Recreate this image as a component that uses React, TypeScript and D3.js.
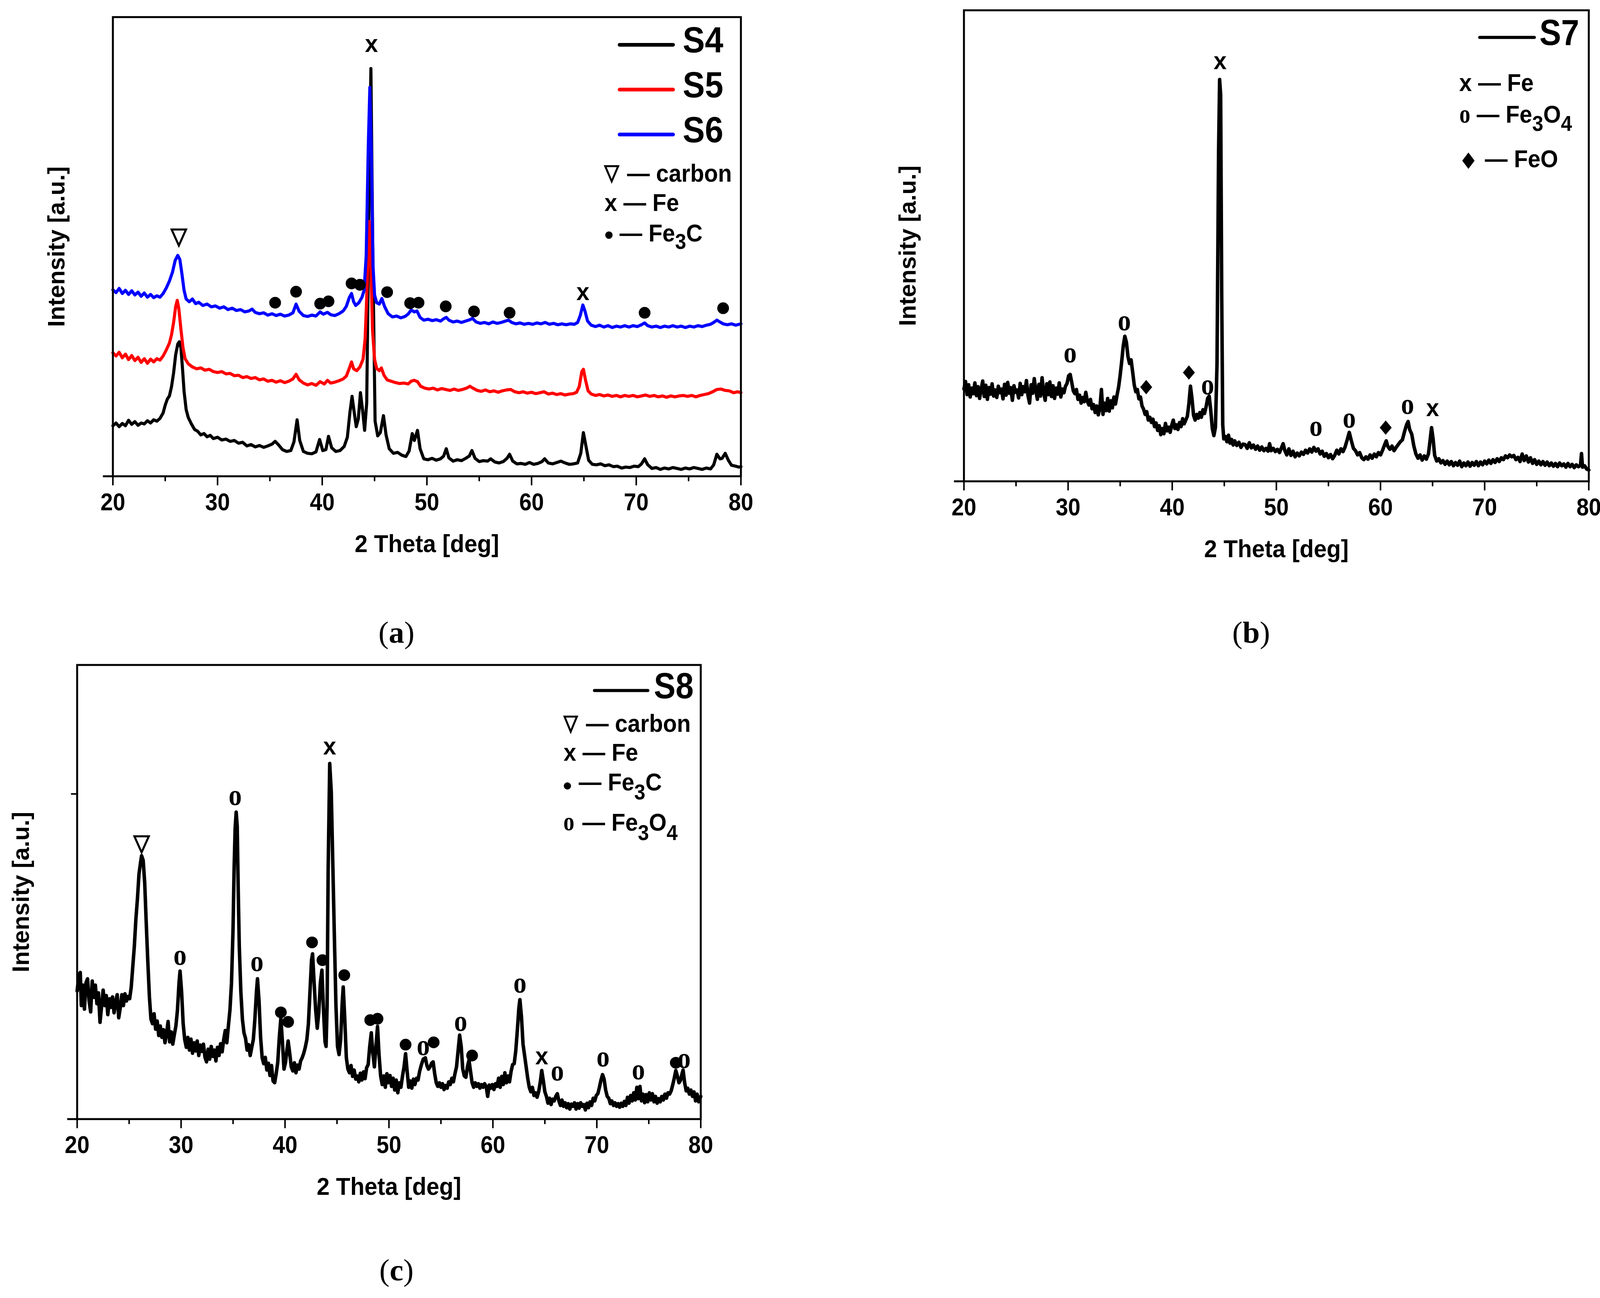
import React from "react";
import * as d3 from "d3";

// ---------------- DATA (2θ in deg, intensity in % of plot height) ----------------
const thetaDomain = [20, 80];
const xTickValues = [20, 25, 30, 35, 40, 45, 50, 55, 60, 65, 70, 75, 80];

// Panel (a) — S4 (black)
const S4 = [
  20.0, 11.0, 20.3, 11.6, 20.6, 10.8, 20.9, 11.5, 21.2, 11.0, 21.5, 12.2, 21.8, 11.3, 22.1, 11.9, 22.4, 11.1,
  22.7, 11.6, 23.0, 11.4, 23.3, 12.1, 23.6, 11.6, 23.9, 12.3, 24.2, 12.0, 24.5, 12.6, 24.8, 13.8, 25.0, 15.5,
  25.2, 16.8, 25.4, 17.5, 25.6, 19.5, 25.8, 22.5, 26.0, 26.5, 26.2, 28.8, 26.35, 29.3, 26.5, 28.0, 26.65, 23.5,
  26.8, 18.5, 27.0, 14.5, 27.2, 12.8, 27.5, 11.4, 27.8, 10.2, 28.1, 9.8, 28.4, 9.0, 28.7, 9.3, 29.0, 8.6,
  29.3, 8.9, 29.6, 8.2, 30.0, 8.5, 30.4, 7.9, 30.8, 8.1, 31.2, 7.6, 31.6, 7.8, 32.0, 7.2, 32.4, 7.4, 32.8, 6.6,
  33.2, 6.9, 33.6, 6.4, 34.0, 6.7, 34.4, 6.3, 34.8, 6.6, 35.2, 7.0, 35.5, 7.6, 35.8, 6.9, 36.2, 5.8, 36.6, 5.4,
  37.0, 5.6, 37.3, 7.5, 37.6, 12.3, 37.85, 7.8, 38.2, 5.4, 38.6, 5.0, 39.0, 4.9, 39.4, 5.3, 39.75, 8.0,
  40.05, 5.6, 40.35, 5.8, 40.6, 8.7, 40.9, 6.2, 41.3, 5.4, 41.7, 5.6, 42.1, 6.5, 42.4, 8.5, 42.65, 14.0,
  42.85, 17.4, 43.05, 14.0, 43.25, 10.8, 43.45, 12.5, 43.65, 18.2, 43.85, 14.5, 44.05, 10.0, 44.25, 16.0,
  44.45, 55.0, 44.65, 88.8, 44.85, 45.0, 45.05, 12.0, 45.3, 8.8, 45.55, 9.5, 45.85, 13.2, 46.1, 9.0, 46.4, 6.0,
  46.8, 5.0, 47.2, 5.2, 47.6, 4.6, 48.0, 4.3, 48.3, 5.5, 48.6, 9.3, 48.8, 7.8, 49.1, 10.0, 49.35, 6.0, 49.7, 3.8,
  50.1, 3.6, 50.5, 3.9, 50.9, 3.5, 51.3, 3.8, 51.6, 4.4, 51.85, 6.0, 52.1, 4.0, 52.5, 3.3, 52.9, 3.6, 53.3, 3.4,
  53.7, 3.9, 54.05, 4.4, 54.3, 5.6, 54.6, 3.9, 55.0, 3.2, 55.4, 3.4, 55.8, 3.3, 56.1, 3.8, 56.5, 3.1, 56.9, 2.9,
  57.3, 3.2, 57.65, 3.9, 57.9, 4.8, 58.2, 3.3, 58.6, 2.7, 59.0, 2.8, 59.4, 2.6, 59.8, 3.0, 60.2, 2.6, 60.6, 2.8,
  61.0, 3.2, 61.25, 3.8, 61.6, 2.9, 62.0, 2.7, 62.4, 3.0, 62.8, 3.3, 63.2, 2.9, 63.6, 2.6, 64.0, 2.7, 64.4, 2.9,
  64.7, 5.0, 64.95, 9.5, 65.2, 6.5, 65.45, 3.5, 65.8, 2.6, 66.2, 2.5, 66.6, 2.7, 67.0, 2.3, 67.4, 2.5, 67.8, 2.1,
  68.2, 2.2, 68.6, 1.8, 69.0, 2.0, 69.4, 1.9, 69.8, 2.2, 70.2, 2.1, 70.5, 2.7, 70.8, 3.8, 71.1, 2.5, 71.5, 1.7,
  71.9, 1.9, 72.3, 1.5, 72.7, 1.8, 73.1, 1.6, 73.5, 1.9, 73.9, 1.7, 74.3, 1.5, 74.7, 1.8, 75.1, 1.6, 75.5, 1.9,
  75.9, 1.7, 76.3, 1.5, 76.7, 1.8, 77.1, 1.6, 77.4, 2.5, 77.7, 4.8, 78.0, 3.8, 78.2, 3.9, 78.5, 5.0, 78.8, 3.5,
  79.1, 2.4, 79.5, 2.2, 79.8, 2.0, 80.0, 2.1,
];

// Panel (a) — S5 (red)
const S5 = [
  20.0, 26.9, 20.3, 26.2, 20.6, 27.0, 20.9, 25.8, 21.2, 26.6, 21.5, 25.4, 21.8, 26.3, 22.1, 25.2, 22.4, 25.9,
  22.7, 24.8, 23.0, 25.6, 23.3, 24.6, 23.6, 25.5, 23.9, 24.9, 24.2, 25.6, 24.5, 25.3, 24.8, 26.2, 25.1, 27.5,
  25.4, 29.0, 25.6, 30.8, 25.8, 33.5, 26.0, 37.0, 26.15, 38.3, 26.3, 36.5, 26.5, 32.0, 26.7, 28.0, 26.9, 25.6,
  27.2, 24.5, 27.6, 23.8, 28.0, 23.4, 28.4, 23.6, 28.8, 23.1, 29.2, 23.3, 29.6, 22.8, 30.0, 22.6, 30.4, 22.8,
  30.8, 22.3, 31.2, 22.4, 31.6, 21.9, 32.0, 22.0, 32.4, 21.5, 32.8, 21.7, 33.2, 21.3, 33.6, 21.5, 34.0, 21.0,
  34.4, 21.2, 34.8, 20.7, 35.2, 20.9, 35.6, 20.5, 36.0, 20.8, 36.4, 20.4, 36.8, 20.7, 37.2, 21.2, 37.5, 22.2,
  37.8, 21.0, 38.2, 20.3, 38.6, 19.9, 39.0, 20.2, 39.4, 19.8, 39.8, 20.6, 40.2, 20.1, 40.5, 20.9, 40.8, 20.3,
  41.2, 20.5, 41.6, 20.8, 42.0, 21.2, 42.3, 21.8, 42.6, 23.6, 42.8, 24.9, 43.0, 23.4, 43.3, 23.0, 43.6, 23.8,
  43.9, 25.5, 44.1, 30.0, 44.3, 42.0, 44.5, 55.5, 44.65, 46.0, 44.8, 32.0, 45.0, 25.5, 45.2, 23.5, 45.45, 23.0,
  45.65, 23.6, 45.9, 22.0, 46.2, 21.0, 46.6, 20.7, 47.0, 20.4, 47.4, 20.2, 47.8, 20.3, 48.2, 20.1, 48.5, 20.7,
  48.8, 20.9, 49.1, 20.6, 49.4, 19.6, 49.8, 19.2, 50.2, 19.0, 50.6, 19.2, 51.0, 18.8, 51.4, 19.1, 51.8, 18.9,
  52.2, 18.7, 52.6, 19.0, 53.0, 18.7, 53.4, 18.9, 53.8, 19.2, 54.1, 19.6, 54.4, 19.2, 54.8, 18.7, 55.2, 18.5,
  55.6, 18.8, 56.0, 18.4, 56.4, 18.6, 56.8, 18.3, 57.2, 18.6, 57.6, 18.8, 58.0, 18.9, 58.4, 18.4, 58.8, 18.2,
  59.2, 18.4, 59.6, 18.1, 60.0, 18.3, 60.4, 18.0, 60.8, 18.2, 61.2, 18.4, 61.6, 17.9, 62.0, 18.1, 62.4, 17.8,
  62.8, 18.0, 63.2, 17.7, 63.6, 17.9, 64.0, 18.0, 64.3, 18.3, 64.55, 19.5, 64.8, 22.8, 64.95, 23.3, 65.15, 21.0,
  65.4, 18.6, 65.7, 17.9, 66.1, 17.6, 66.5, 17.8, 66.9, 17.5, 67.3, 17.7, 67.7, 17.4, 68.1, 17.6, 68.5, 17.3,
  68.9, 17.6, 69.3, 17.4, 69.7, 17.6, 70.1, 17.3, 70.5, 17.5, 70.9, 17.7, 71.3, 17.4, 71.7, 17.6, 72.1, 17.3,
  72.5, 17.5, 72.9, 17.2, 73.3, 17.5, 73.7, 17.3, 74.1, 17.5, 74.5, 17.6, 74.9, 17.4, 75.3, 17.6, 75.7, 17.3,
  76.1, 17.6, 76.5, 17.8, 76.9, 18.0, 77.3, 18.4, 77.7, 18.9, 78.1, 19.0, 78.5, 18.7, 78.9, 18.6, 79.3, 18.2,
  79.7, 18.4, 80.0, 18.2,
];

// Panel (a) — S6 (blue)
const S6 = [
  20.0, 40.6, 20.3, 40.0, 20.6, 40.9, 20.9, 39.8, 21.2, 40.5, 21.5, 39.6, 21.8, 40.4, 22.1, 39.5, 22.4, 40.1,
  22.7, 39.2, 23.0, 39.9, 23.3, 39.0, 23.6, 39.6, 23.9, 38.9, 24.2, 39.3, 24.5, 39.0, 24.8, 39.8, 25.1, 41.0,
  25.4, 42.5, 25.7, 44.5, 25.95, 47.0, 26.2, 48.1, 26.4, 47.2, 26.6, 44.0, 26.8, 40.5, 27.0, 38.6, 27.3, 38.0,
  27.6, 38.6, 27.9, 37.6, 28.2, 37.9, 28.6, 37.2, 29.0, 37.5, 29.4, 36.9, 29.8, 37.1, 30.2, 36.6, 30.6, 36.9,
  31.0, 36.3, 31.4, 36.6, 31.8, 36.1, 32.2, 36.3, 32.6, 35.8, 33.0, 36.0, 33.3, 36.4, 33.6, 35.7, 34.0, 35.4,
  34.4, 35.6, 34.8, 35.1, 35.2, 35.4, 35.6, 35.0, 36.0, 35.3, 36.4, 34.9, 36.8, 35.1, 37.2, 35.6, 37.5, 37.5,
  37.8, 35.9, 38.2, 35.0, 38.6, 34.8, 39.0, 35.1, 39.4, 34.9, 39.8, 35.8, 40.1, 35.3, 40.5, 35.7, 40.8, 35.2,
  41.2, 35.0, 41.6, 35.4, 42.0, 36.0, 42.3, 37.0, 42.6, 39.0, 42.8, 39.8, 43.0, 38.0, 43.2, 37.2, 43.5, 37.8,
  43.8, 39.0, 44.0, 40.5, 44.2, 48.0, 44.4, 72.0, 44.55, 84.7, 44.7, 70.0, 44.85, 46.0, 45.0, 39.5, 45.2, 37.8,
  45.45, 37.5, 45.7, 38.7, 45.95, 37.0, 46.3, 35.4, 46.7, 34.7, 47.1, 34.9, 47.5, 34.5, 47.9, 34.8, 48.2, 35.3,
  48.5, 36.2, 48.8, 35.8, 49.05, 36.0, 49.35, 34.6, 49.7, 34.0, 50.1, 34.2, 50.5, 33.9, 50.9, 34.1, 51.3, 33.8,
  51.6, 34.3, 51.85, 34.6, 52.1, 34.0, 52.5, 33.6, 52.9, 33.8, 53.3, 33.5, 53.7, 33.8, 54.1, 34.1, 54.35, 34.4,
  54.7, 33.6, 55.1, 33.3, 55.5, 33.5, 55.9, 33.2, 56.3, 33.6, 56.7, 33.3, 57.1, 33.5, 57.5, 33.8, 57.8, 34.0,
  58.1, 33.5, 58.5, 33.2, 58.9, 33.4, 59.3, 33.1, 59.7, 33.3, 60.1, 33.1, 60.5, 33.4, 60.9, 33.2, 61.3, 33.5,
  61.7, 33.1, 62.1, 33.3, 62.5, 33.0, 62.9, 33.2, 63.3, 33.0, 63.7, 33.2, 64.1, 33.1, 64.4, 33.5, 64.65, 35.0,
  64.9, 37.3, 65.1, 36.0, 65.35, 33.8, 65.7, 32.9, 66.1, 32.6, 66.5, 32.9, 66.9, 32.5, 67.3, 32.8, 67.7, 32.4,
  68.1, 32.7, 68.5, 32.5, 68.9, 32.8, 69.3, 32.5, 69.7, 32.8, 70.1, 32.6, 70.5, 33.0, 70.8, 33.4, 71.1, 32.8,
  71.5, 32.5, 71.9, 32.7, 72.3, 32.4, 72.7, 32.7, 73.1, 32.5, 73.5, 32.8, 73.9, 32.5, 74.3, 32.7, 74.7, 32.4,
  75.1, 32.7, 75.5, 32.5, 75.9, 32.8, 76.3, 32.6, 76.7, 32.9, 77.1, 33.1, 77.4, 33.5, 77.7, 34.0, 78.0, 33.6,
  78.3, 33.2, 78.7, 33.0, 79.1, 33.2, 79.5, 32.9, 80.0, 33.2,
];

// Panel (b) — S7
const S7 = [
  20.0, 19.6, 20.15, 21.2, 20.3, 18.4, 20.45, 20.5, 20.6, 17.9, 20.75, 19.8, 20.9, 18.6, 21.05, 20.9, 21.2, 18.2,
  21.35, 20.1, 21.5, 17.6, 21.65, 19.5, 21.8, 21.3, 21.95, 18.0, 22.1, 20.4, 22.25, 17.4, 22.4, 19.9, 22.55, 18.5,
  22.7, 20.7, 22.85, 18.1, 23.0, 19.4, 23.15, 17.8, 23.3, 20.2, 23.45, 18.8, 23.6, 19.6, 23.75, 17.5, 23.9, 20.6,
  24.05, 18.3, 24.2, 21.0, 24.35, 18.7, 24.5, 19.9, 24.65, 17.2, 24.8, 20.3, 24.95, 18.9, 25.1, 19.4, 25.25, 17.7,
  25.4, 20.8, 25.55, 18.4, 25.7, 20.1, 25.85, 19.0, 26.0, 21.4, 26.15, 18.2, 26.3, 16.6, 26.45, 20.5, 26.6, 18.7,
  26.75, 21.8, 26.9, 19.3, 27.05, 17.4, 27.2, 20.6, 27.35, 18.1, 27.5, 22.0, 27.65, 18.9, 27.8, 17.2, 27.95, 20.7,
  28.1, 18.4, 28.25, 21.1, 28.4, 18.0, 28.55, 20.3, 28.7, 17.6, 28.85, 19.8, 29.0, 18.5, 29.15, 20.9, 29.3, 17.9,
  29.45, 19.6, 29.6, 18.8, 29.75, 20.2, 29.9, 20.8, 30.05, 22.4, 30.2, 22.7, 30.35, 21.0, 30.5, 19.2, 30.65, 18.6,
  30.8, 19.5, 30.95, 17.4, 31.1, 18.3, 31.25, 16.6, 31.4, 17.8, 31.55, 16.9, 31.7, 18.9, 31.85, 17.0, 32.0, 16.2,
  32.15, 17.4, 32.3, 15.4, 32.45, 16.3, 32.6, 14.6, 32.75, 16.0, 32.9, 14.1, 33.05, 15.5, 33.2, 19.5, 33.35, 14.2,
  33.5, 16.6, 33.65, 15.0, 33.8, 17.6, 33.95, 14.9, 34.1, 17.1, 34.25, 15.6, 34.4, 17.9, 34.55, 16.4, 34.7, 18.3,
  34.85, 20.0, 35.0, 22.5, 35.15, 25.5, 35.3, 28.8, 35.45, 30.8, 35.6, 29.5, 35.75, 26.5, 35.9, 25.0, 36.05, 25.8,
  36.2, 23.2, 36.35, 20.5, 36.5, 19.0, 36.65, 19.5, 36.8, 17.5, 36.95, 17.9, 37.1, 16.0, 37.25, 15.3, 37.4, 14.2,
  37.55, 14.8, 37.7, 13.0, 37.85, 13.6, 38.0, 12.5, 38.15, 13.2, 38.3, 11.6, 38.45, 12.4, 38.6, 10.8, 38.75, 11.8,
  38.9, 9.9, 39.05, 11.2, 39.2, 10.1, 39.35, 12.3, 39.5, 10.7, 39.65, 11.5, 39.8, 10.4, 39.95, 11.9, 40.1, 13.0,
  40.25, 11.2, 40.4, 12.0, 40.55, 11.0, 40.7, 12.5, 40.85, 11.6, 41.0, 13.3, 41.15, 12.2, 41.3, 13.0, 41.45, 13.8,
  41.6, 16.5, 41.75, 20.2, 41.9, 17.5, 42.05, 14.0, 42.2, 13.0, 42.35, 14.2, 42.5, 13.4, 42.65, 14.6, 42.8, 13.6,
  42.95, 15.2, 43.1, 14.4, 43.25, 15.8, 43.4, 17.6, 43.55, 18.1, 43.7, 15.0, 43.85, 11.2, 44.0, 9.7, 44.15, 11.5,
  44.3, 25.0, 44.45, 70.0, 44.55, 85.3, 44.65, 82.0, 44.75, 40.0, 44.85, 12.0, 44.95, 9.0, 45.1, 9.5, 45.25, 8.4,
  45.4, 9.8, 45.55, 8.1, 45.7, 8.9, 45.85, 7.7, 46.0, 8.6, 46.2, 7.6, 46.4, 8.3, 46.6, 7.2, 46.8, 7.9, 47.0, 7.8,
  47.2, 7.0, 47.4, 8.2, 47.6, 7.1, 47.8, 7.7, 48.0, 6.8, 48.2, 7.5, 48.4, 6.6, 48.6, 7.3, 48.8, 6.5, 49.0, 7.0,
  49.2, 6.4, 49.35, 8.0, 49.5, 6.5, 49.7, 7.0, 49.9, 6.3, 50.1, 6.8, 50.3, 6.1, 50.5, 7.2, 50.65, 8.0, 50.8, 6.6,
  51.0, 5.6, 51.2, 6.9, 51.4, 5.5, 51.6, 6.4, 51.8, 5.2, 52.0, 6.0, 52.2, 5.4, 52.4, 6.2, 52.6, 5.7, 52.8, 6.6,
  53.0, 6.0, 53.2, 6.9, 53.4, 6.2, 53.6, 7.2, 53.8, 6.4, 54.0, 6.9, 54.2, 5.8, 54.4, 6.4, 54.6, 5.3, 54.8, 5.9,
  55.0, 5.0, 55.2, 5.7, 55.4, 4.8, 55.6, 5.5, 55.8, 6.6, 56.0, 5.8, 56.2, 6.9, 56.4, 6.3, 56.6, 7.3, 56.8, 8.8,
  57.0, 10.4, 57.2, 8.6, 57.4, 7.0, 57.6, 6.5, 57.8, 5.6, 58.0, 6.1, 58.2, 5.0, 58.4, 4.6, 58.6, 5.2, 58.8, 4.7,
  59.0, 5.6, 59.2, 4.9, 59.4, 5.8, 59.6, 5.2, 59.8, 6.1, 60.0, 5.6, 60.2, 6.6, 60.4, 7.8, 60.55, 8.6, 60.7, 7.4,
  60.9, 6.8, 61.1, 7.5, 61.3, 6.5, 61.5, 7.2, 61.7, 7.8, 61.9, 8.4, 62.1, 8.8, 62.3, 10.5, 62.5, 12.0, 62.65, 12.7,
  62.8, 11.0, 63.0, 10.0, 63.2, 7.5, 63.4, 5.8, 63.6, 4.9, 63.8, 5.6, 64.0, 4.5, 64.2, 5.4, 64.4, 4.7, 64.6, 5.8,
  64.75, 8.5, 64.9, 11.4, 65.05, 9.0, 65.2, 5.5, 65.4, 4.3, 65.6, 4.8, 65.8, 3.9, 66.0, 4.4, 66.2, 3.6, 66.4, 4.3,
  66.6, 3.5, 66.8, 4.2, 67.0, 3.3, 67.2, 4.0, 67.4, 3.4, 67.6, 4.3, 67.8, 3.1, 68.0, 3.9, 68.2, 3.3, 68.4, 4.1,
  68.6, 3.2, 68.8, 4.0, 69.0, 3.4, 69.2, 4.2, 69.4, 3.3, 69.6, 4.1, 69.8, 3.5, 70.0, 4.3, 70.2, 3.7, 70.4, 4.5,
  70.6, 3.8, 70.8, 4.6, 71.0, 4.0, 71.2, 4.8, 71.4, 4.2, 71.6, 5.0, 71.8, 4.6, 72.0, 5.4, 72.2, 5.0, 72.4, 5.6,
  72.6, 5.2, 72.8, 5.5, 73.0, 4.6, 73.2, 5.1, 73.4, 4.2, 73.6, 5.8, 73.8, 4.4, 74.0, 5.4, 74.2, 4.1, 74.4, 5.0,
  74.6, 3.8, 74.8, 4.6, 75.0, 3.6, 75.2, 4.3, 75.4, 3.5, 75.6, 4.2, 75.8, 3.4, 76.0, 4.1, 76.2, 3.3, 76.4, 3.9,
  76.6, 3.2, 76.8, 3.8, 77.0, 3.1, 77.2, 3.9, 77.4, 3.3, 77.6, 3.7, 77.8, 3.0, 78.0, 3.8, 78.2, 3.1, 78.4, 3.6,
  78.6, 2.9, 78.8, 3.5, 79.0, 3.1, 79.2, 3.4, 79.3, 5.9, 79.4, 3.0, 79.6, 3.3, 79.8, 2.6, 80.0, 2.4,
];

// Panel (c) — S8
const S8 = [
  20.0, 28.2, 20.15, 31.5, 20.3, 32.3, 20.4, 25.0, 20.55, 29.5, 20.7, 24.2, 20.85, 30.0, 21.0, 30.9, 21.15, 26.0,
  21.3, 23.6, 21.45, 30.4, 21.6, 26.8, 21.75, 29.5, 21.9, 25.4, 22.05, 27.8, 22.2, 21.3, 22.35, 24.8, 22.5, 28.4,
  22.65, 25.0, 22.8, 27.2, 22.95, 23.0, 23.1, 26.5, 23.25, 24.6, 23.4, 26.9, 23.55, 23.4, 23.7, 25.8, 23.85, 27.4,
  24.0, 22.3, 24.15, 24.5, 24.3, 27.4, 24.45, 25.0, 24.6, 27.6, 24.75, 26.0, 24.9, 27.0, 25.05, 26.5, 25.2, 29.0,
  25.35, 33.5, 25.5, 38.0, 25.65, 44.0, 25.8, 48.5, 25.95, 54.0, 26.1, 56.5, 26.2, 58.0, 26.35, 57.0, 26.5, 52.0,
  26.65, 43.0, 26.8, 34.6, 26.95, 27.0, 27.1, 22.0, 27.25, 21.0, 27.4, 23.2, 27.55, 19.8, 27.7, 21.6, 27.85, 18.4,
  28.0, 20.5, 28.15, 18.0, 28.3, 19.7, 28.45, 16.8, 28.6, 18.9, 28.75, 21.5, 28.9, 17.0, 29.05, 19.2, 29.2, 16.5,
  29.35, 18.6, 29.5, 20.5, 29.65, 24.0, 29.8, 30.0, 29.9, 32.6, 30.05, 28.0, 30.2, 21.0, 30.35, 17.5, 30.5, 15.8,
  30.65, 18.0, 30.8, 15.2, 30.95, 17.6, 31.1, 14.5, 31.25, 16.8, 31.4, 15.0, 31.55, 17.2, 31.7, 14.0, 31.85, 16.3,
  32.0, 14.9, 32.15, 16.5, 32.3, 13.6, 32.45, 12.6, 32.6, 15.4, 32.75, 13.2, 32.9, 16.0, 33.05, 13.8, 33.2, 15.2,
  33.35, 12.8, 33.5, 15.8, 33.65, 14.0, 33.8, 16.6, 33.95, 14.8, 34.1, 17.5, 34.25, 19.5, 34.4, 16.8, 34.55, 20.5,
  34.7, 24.0, 34.85, 30.0, 35.0, 42.0, 35.1, 55.0, 35.2, 64.0, 35.3, 67.6, 35.4, 64.5, 35.5, 50.0, 35.6, 38.0,
  35.75, 28.0, 35.9, 22.0, 36.05, 19.0, 36.2, 17.8, 36.35, 15.2, 36.5, 16.4, 36.65, 14.0, 36.8, 15.8, 36.95, 17.5,
  37.1, 22.0, 37.25, 28.0, 37.35, 30.9, 37.5, 26.0, 37.65, 18.0, 37.8, 13.5, 37.95, 12.2, 38.1, 13.6, 38.25, 10.8,
  38.4, 12.3, 38.55, 9.6, 38.7, 11.8, 38.85, 8.4, 39.0, 8.0, 39.15, 10.0, 39.3, 12.5, 39.45, 18.0, 39.6, 22.2,
  39.75, 17.0, 39.9, 11.0, 40.05, 12.5, 40.2, 15.5, 40.3, 17.2, 40.45, 14.5, 40.6, 11.5, 40.75, 10.6, 40.9, 12.4,
  41.05, 10.2, 41.2, 11.9, 41.35, 11.0, 41.5, 12.8, 41.65, 13.5, 41.8, 14.5, 41.95, 15.8, 42.1, 17.5, 42.25, 21.0,
  42.4, 28.0, 42.55, 35.0, 42.65, 36.4, 42.8, 30.0, 42.95, 24.0, 43.1, 20.0, 43.25, 23.5, 43.4, 30.0, 43.55, 32.8,
  43.7, 24.0, 43.85, 17.0, 43.95, 16.0, 44.05, 25.0, 44.15, 55.0, 44.3, 78.3, 44.45, 72.0, 44.6, 56.0, 44.75, 40.0,
  44.9, 25.0, 45.05, 16.0, 45.2, 14.2, 45.35, 17.5, 45.5, 25.5, 45.6, 29.1, 45.75, 22.0, 45.9, 13.5, 46.05, 11.0,
  46.2, 10.2, 46.35, 11.8, 46.5, 9.4, 46.65, 10.8, 46.8, 8.8, 46.95, 9.5, 47.1, 8.2, 47.25, 10.1, 47.4, 8.6,
  47.55, 10.4, 47.7, 8.9, 47.85, 11.3, 48.0, 12.0, 48.15, 16.0, 48.3, 19.0, 48.45, 14.5, 48.6, 11.5, 48.75, 16.0,
  48.9, 20.4, 49.05, 14.0, 49.2, 9.5, 49.35, 7.6, 49.5, 9.5, 49.65, 7.0, 49.8, 10.0, 49.95, 8.0, 50.1, 9.6,
  50.25, 7.2, 50.4, 9.0, 50.55, 6.4, 50.7, 8.6, 50.85, 5.8, 51.0, 8.0, 51.15, 7.0, 51.3, 9.4, 51.45, 11.5,
  51.6, 14.4, 51.75, 10.5, 51.9, 7.0, 52.05, 8.4, 52.2, 6.8, 52.35, 8.8, 52.5, 7.6, 52.65, 9.0, 52.8, 8.6,
  52.95, 10.5, 53.1, 11.8, 53.3, 13.2, 53.5, 13.5, 53.65, 11.8, 53.8, 11.0, 53.95, 11.5, 54.1, 12.3, 54.25, 12.6,
  54.4, 10.0, 54.55, 8.0, 54.7, 7.2, 54.85, 8.0, 55.0, 7.0, 55.15, 7.8, 55.3, 6.5, 55.45, 7.4, 55.6, 6.8,
  55.75, 8.2, 55.9, 7.6, 56.05, 9.0, 56.2, 8.2, 56.35, 10.0, 56.5, 11.5, 56.65, 15.0, 56.8, 18.5, 56.95, 16.0,
  57.1, 11.0, 57.25, 9.5, 57.4, 9.2, 57.55, 11.5, 57.7, 13.0, 57.85, 10.5, 58.0, 8.0, 58.15, 7.0, 58.3, 8.0,
  58.45, 7.2, 58.6, 7.8, 58.75, 6.8, 58.9, 7.6, 59.05, 7.0, 59.2, 7.8, 59.35, 7.2, 59.5, 5.0, 59.65, 7.5,
  59.8, 6.8, 59.95, 7.6, 60.1, 6.5, 60.25, 7.8, 60.4, 7.2, 60.55, 9.0, 60.7, 7.0, 60.85, 9.4, 61.0, 7.6,
  61.15, 10.2, 61.3, 8.0, 61.45, 9.5, 61.6, 8.2, 61.75, 10.5, 61.9, 12.0, 62.05, 12.2, 62.2, 15.0, 62.35, 19.5,
  62.5, 24.5, 62.6, 26.3, 62.75, 22.5, 62.9, 16.5, 63.05, 14.0, 63.2, 11.5, 63.35, 9.0, 63.5, 7.0, 63.65, 6.0,
  63.8, 7.0, 63.95, 5.2, 64.1, 5.8, 64.25, 4.8, 64.4, 6.0, 64.55, 8.0, 64.7, 10.7, 64.85, 8.5, 65.0, 6.0,
  65.15, 5.0, 65.3, 3.5, 65.45, 4.6, 65.6, 3.2, 65.75, 4.4, 65.9, 4.0, 66.05, 5.0, 66.2, 5.6, 66.35, 4.0,
  66.5, 3.0, 66.65, 4.2, 66.8, 2.8, 66.95, 3.6, 67.1, 2.5, 67.25, 3.4, 67.4, 2.2, 67.55, 3.3, 67.7, 2.8,
  67.85, 3.6, 68.0, 2.2, 68.15, 3.4, 68.3, 2.4, 68.45, 3.6, 68.6, 2.8, 68.75, 3.2, 68.9, 2.0, 69.05, 3.5,
  69.2, 2.5, 69.35, 3.8, 69.5, 3.0, 69.65, 4.6, 69.8, 4.0, 69.95, 5.2, 70.1, 5.6, 70.25, 7.0, 70.4, 8.6,
  70.55, 9.8, 70.7, 8.8, 70.85, 6.4, 71.0, 5.0, 71.15, 4.6, 71.3, 3.4, 71.45, 4.0, 71.6, 3.0, 71.75, 3.6,
  71.9, 2.8, 72.05, 3.4, 72.2, 2.6, 72.35, 3.5, 72.5, 2.8, 72.65, 3.9, 72.8, 3.0, 72.95, 4.8, 73.1, 3.5,
  73.25, 5.2, 73.4, 4.0, 73.55, 5.8, 73.7, 4.2, 73.85, 7.0, 74.0, 4.5, 74.15, 7.2, 74.3, 4.0, 74.45, 5.5,
  74.6, 3.6, 74.75, 5.4, 74.9, 3.8, 75.05, 5.8, 75.2, 4.2, 75.35, 5.6, 75.5, 3.8, 75.65, 5.0, 75.8, 3.5,
  75.95, 4.5, 76.1, 3.8, 76.25, 5.0, 76.4, 4.2, 76.55, 5.5, 76.7, 4.6, 76.85, 5.8, 77.0, 5.5, 77.15, 6.2,
  77.3, 7.5, 77.45, 9.0, 77.6, 10.7, 77.75, 9.5, 77.9, 8.0, 78.05, 8.5, 78.2, 10.0, 78.3, 10.8, 78.45, 8.0,
  78.6, 6.2, 78.75, 6.8, 78.9, 5.5, 79.05, 6.4, 79.2, 5.0, 79.35, 6.0, 79.5, 4.0, 79.65, 5.5, 79.8, 3.8, 80.0, 5.0,
];

// Phase markers [2θ, height]
const aCarbon = [[26.3, 52.0]];
const aFe = [[44.7, 93.8], [64.9, 39.8]];
const aFe3C = [
  [35.5, 37.8], [37.5, 40.2], [39.8, 37.6], [40.6, 38.1], [42.8, 42.0], [43.6, 41.7], [46.2, 40.1],
  [48.4, 37.7], [49.2, 37.8], [51.8, 37.0], [54.5, 35.9], [57.9, 35.6], [70.8, 35.6], [78.3, 36.6],
];
const bFe = [[44.6, 88.9], [65.0, 15.2]];
const bFe3O4 = [[30.2, 26.8], [35.4, 33.6], [43.4, 20.0], [53.8, 11.2], [57.0, 12.9], [62.6, 15.8]];
const bFeO = [[37.5, 20.0], [41.6, 23.1], [60.5, 11.4]];
const cCarbon = [[26.2, 60.5]];
const cFe = [[44.3, 81.7], [64.7, 13.5]];
const cFe3C = [
  [39.6, 23.5], [40.3, 21.4], [42.6, 38.9], [43.6, 35.0], [45.7, 31.7], [48.2, 21.8], [48.9, 22.1],
  [51.6, 16.4], [54.3, 16.9], [58.0, 14.0], [77.6, 12.4],
];
const cFe3O4 = [
  [29.9, 35.5], [35.2, 70.7], [37.3, 34.2], [53.3, 15.7], [56.9, 21.0], [62.6, 29.4], [66.2, 10.1],
  [70.6, 13.2], [74.0, 10.3], [78.4, 12.8],
];
const cExtraYTicks = [71.6];

const seriesNamesA = ["S4", "S5", "S6"];
const seriesColorsA = ["#000000", "#ff0000", "#0000ff"];

// ---------------- LAYOUT ----------------
const VW = 1564;
const VH = 1260.2;
const SANS = "'Liberation Sans', Arial, Helvetica, sans-serif";
const SERIF = "'Liberation Serif', 'Times New Roman', Times, serif";

type Box = { l: number; r: number; t: number; b: number };
const boxA: Box = { l: 109.6, r: 719.5, t: 16.6, b: 462.4 };
const boxB: Box = { l: 936.1, r: 1542.9, t: 10.0, b: 467.3 };
const boxC: Box = { l: 74.9, r: 680.5, t: 645.6, b: 1086.5 };

function toPairs(flat: number[]): [number, number][] {
  const out: [number, number][] = [];
  for (let i = 0; i + 1 < flat.length; i += 2) out.push([flat[i], flat[i + 1]]);
  return out;
}

function T(props: {
  x: number;
  y: number;
  size: number;
  sx?: number;
  anchor?: string;
  weight?: string;
  family?: string;
  rotate?: number;
  children: React.ReactNode;
}) {
  const { x, y, size, sx = 0.92, anchor = "start", weight = "bold", family = SANS, rotate = 0, children } = props;
  return (
    <text
      transform={`translate(${x},${y}) rotate(${rotate}) scale(${sx},1)`}
      fontFamily={family}
      fontSize={size}
      fontWeight={weight}
      textAnchor={anchor as any}
      fill="#000"
    >
      {children}
    </text>
  );
}

function triPath(cx: number, cy: number, hw: number, hh: number) {
  return `M${cx - hw},${cy - hh}L${cx + hw},${cy - hh}L${cx},${cy + hh}Z`;
}
function diaPath(cx: number, cy: number, hw: number, hh: number) {
  return `M${cx},${cy - hh}L${cx + hw},${cy}L${cx},${cy + hh}L${cx - hw},${cy}Z`;
}

type SeriesDef = { flat: number[]; color: string; width: number };
type Marks = {
  tri?: number[][];
  x?: number[][];
  dot?: number[][];
  o?: number[][];
  dia?: number[][];
};

function Panel(props: { box: Box; series: SeriesDef[]; marks: Marks; extraYTicks?: number[]; titleX: number }) {
  const { box, series, marks, extraYTicks = [], titleX } = props;
  const x = d3.scaleLinear().domain(thetaDomain).range([box.l, box.r]);
  const y = d3.scaleLinear().domain([0, 100]).range([box.b, box.t]);
  const line = d3
    .line<[number, number]>()
    .x((d) => x(d[0]))
    .y((d) => y(d[1]));
  const cxm = (box.l + box.r) / 2;
  const cym = (box.t + box.b) / 2;
  const axisW = 1.9;
  return (
    <g>
      {series.map((s, i) => (
        <path
          key={i}
          d={line(toPairs(s.flat)) || ""}
          fill="none"
          stroke={s.color}
          strokeWidth={s.width}
          strokeLinejoin="round"
          strokeLinecap="round"
        />
      ))}
      {/* frame */}
      <rect x={box.l} y={box.t} width={box.r - box.l} height={box.b - box.t} fill="none" stroke="#000" strokeWidth={axisW} />
      {/* y ticks (outward) */}
      <line x1={box.l - 9.7} x2={box.l} y1={box.b} y2={box.b} stroke="#000" strokeWidth={axisW} />
      {extraYTicks.map((v, i) => (
        <line key={i} x1={box.l - 6} x2={box.l} y1={y(v)} y2={y(v)} stroke="#000" strokeWidth={1.5} />
      ))}
      {/* x ticks */}
      {xTickValues.map((t) => {
        const major = t % 10 === 0;
        return (
          <g key={t}>
            <line
              x1={x(t)}
              x2={x(t)}
              y1={box.b}
              y2={box.b + (major ? 8.2 : 4.2)}
              stroke="#000"
              strokeWidth={1.5}
              strokeLinecap="round"
            />
            {major && (
              <T x={x(t)} y={box.b + 33} size={24} sx={0.9} anchor="middle">
                {String(t)}
              </T>
            )}
          </g>
        );
      })}
      <T x={cxm} y={box.b + 73.5} size={24} sx={0.94} anchor="middle">
        2 Theta [deg]
      </T>
      <T x={titleX} y={cym} size={23} sx={1} anchor="middle" rotate={-90}>
        Intensity [a.u.]
      </T>
      {/* markers */}
      {(marks.tri || []).map((m, i) => (
        <path key={"t" + i} d={triPath(x(m[0]), y(m[1]), 7, 7.8)} fill="none" stroke="#000" strokeWidth={2} strokeLinejoin="miter" />
      ))}
      {(marks.dot || []).map((m, i) => (
        <circle key={"d" + i} cx={x(m[0])} cy={y(m[1])} r={5.7} fill="#000" />
      ))}
      {(marks.dia || []).map((m, i) => (
        <path key={"q" + i} d={diaPath(x(m[0]), y(m[1]), 5.8, 7)} fill="#000" />
      ))}
      {(marks.x || []).map((m, i) => (
        <T key={"x" + i} x={x(m[0])} y={y(m[1]) + 6.2} size={24} sx={0.95} anchor="middle">
          x
        </T>
      ))}
      {(marks.o || []).map((m, i) => (
        <T key={"o" + i} x={x(m[0])} y={y(m[1]) + 6.8} size={29} sx={0.88} anchor="middle" family={SERIF}>
          o
        </T>
      ))}
    </g>
  );
}

function Sub(props: { children: React.ReactNode; d?: number }) {
  const d = props.d ?? 8;
  return (
    <tspan fontSize={21} dy={d}>
      {props.children}
    </tspan>
  );
}

function LegendA() {
  const lineY = [43.5, 87, 130.6];
  const textY = [50.8, 94.3, 137.9];
  return (
    <g>
      {seriesNamesA.map((n, i) => (
        <g key={n}>
          <line x1={601.7} x2={653.6} y1={lineY[i]} y2={lineY[i]} stroke={seriesColorsA[i]} strokeWidth={3.6} strokeLinecap="round" />
          <T x={663} y={textY[i]} size={35} sx={0.92}>
            {n}
          </T>
        </g>
      ))}
      <path d={triPath(594, 168.7, 6.3, 7.4)} fill="none" stroke="#000" strokeWidth={1.9} />
      <T x={608.9} y={176.3} size={24}>
        — carbon
      </T>
      <T x={587} y={205} size={24}>
        x — Fe
      </T>
      <circle cx={591.3} cy={228.3} r={3.6} fill="#000" />
      <T x={601.6} y={234.4} size={24}>
        — Fe<Sub d={7.3}>3</Sub>
        <tspan dy={-7.3}>C</tspan>
      </T>
    </g>
  );
}

function LegendB() {
  return (
    <g>
      <line x1={1437} x2={1490} y1={36.3} y2={36.3} stroke="#000" strokeWidth={3} strokeLinecap="round" />
      <T x={1495} y={43.6} size={35} sx={0.9}>
        S7
      </T>
      <T x={1417} y={88.5} size={24}>
        x — Fe
      </T>
      <T x={1422.5} y={119} size={26} sx={0.82} anchor="middle" family={SERIF}>
        o
      </T>
      <T x={1434} y={119} size={24}>
        — Fe<Sub>3</Sub>
        <tspan dy={-8}>O</tspan>
        <Sub>4</Sub>
      </T>
      <path d={diaPath(1426, 156, 6, 8)} fill="#000" />
      <T x={1442} y={162.5} size={24}>
        — FeO
      </T>
    </g>
  );
}

function LegendC() {
  return (
    <g>
      <line x1={577.3} x2={629.1} y1={670.4} y2={670.4} stroke="#000" strokeWidth={3} strokeLinecap="round" />
      <T x={635} y={677.8} size={35} sx={0.9}>
        S8
      </T>
      <path d={triPath(554.2, 703, 6, 7.3)} fill="none" stroke="#000" strokeWidth={1.9} />
      <T x={569} y={710.7} size={24}>
        — carbon
      </T>
      <T x={547.3} y={738.7} size={24}>
        x — Fe
      </T>
      <circle cx={551} cy={763.1} r={3.5} fill="#000" />
      <T x={562} y={767.3} size={24}>
        — Fe<Sub d={9}>3</Sub>
        <tspan dy={-9}>C</tspan>
      </T>
      <T x={552.4} y={806.1} size={26} sx={0.82} anchor="middle" family={SERIF}>
        o
      </T>
      <T x={565.5} y={806.5} size={24}>
        — Fe<Sub d={9}>3</Sub>
        <tspan dy={-9}>O</tspan>
        <Sub d={9}>4</Sub>
      </T>
    </g>
  );
}

function Caption(props: { x: number; y: number; letter: string }) {
  return (
    <text x={props.x} y={props.y} fontFamily={SERIF} fontSize={30} textAnchor="middle" fill="#000">
      (<tspan fontWeight="bold">{props.letter}</tspan>)
    </text>
  );
}

export default function App() {
  return (
    <svg
      width={4123}
      height={3322}
      viewBox={`0 0 ${VW} ${VH}`}
      style={{ position: "absolute", left: 0, top: 0, display: "block", background: "#fff" }}
    >
      <rect x={0} y={0} width={VW} height={VH} fill="#fff" />
      <Panel
        box={boxA}
        titleX={62.6}
        series={[
          { flat: S4, color: seriesColorsA[0], width: 3.0 },
          { flat: S5, color: seriesColorsA[1], width: 3.0 },
          { flat: S6, color: seriesColorsA[2], width: 3.0 },
        ]}
        marks={{ tri: aCarbon, x: aFe, dot: aFe3C }}
      />
      <LegendA />
      <Panel
        box={boxB}
        titleX={889}
        series={[{ flat: S7, color: "#000", width: 3.4 }]}
        marks={{ x: bFe, o: bFe3O4, dia: bFeO }}
      />
      <LegendB />
      <Panel
        box={boxC}
        titleX={27.9}
        series={[{ flat: S8, color: "#000", width: 3.4 }]}
        marks={{ tri: cCarbon, x: cFe, dot: cFe3C, o: cFe3O4 }}
        extraYTicks={cExtraYTicks}
      />
      <LegendC />
      <Caption x={385} y={624} letter="a" />
      <Caption x={1215} y={624} letter="b" />
      <Caption x={385} y={1243} letter="c" />
    </svg>
  );
}
